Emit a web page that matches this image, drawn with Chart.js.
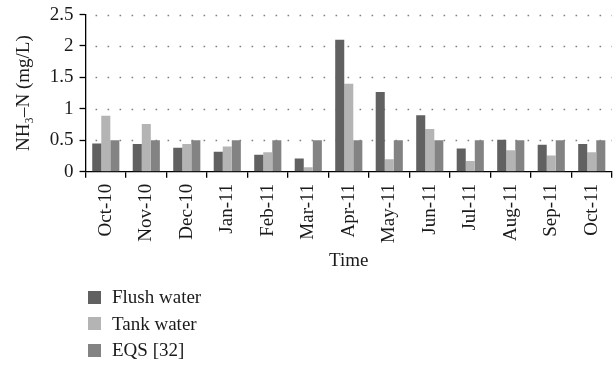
<!DOCTYPE html>
<html>
<head>
<meta charset="utf-8">
<script src="https://cdn.jsdelivr.net/npm/chart.js@4"></script>
<style>
  html, body { margin: 0; padding: 0; background: #fff; }
  #wrap { position: relative; width: 616px; height: 370px; }
  #c { position: absolute; left: 0; top: 0; }
  #legend { position: absolute; left: 88px; top: 284px; font-family: "Liberation Serif", serif; font-size: 19px; color: #1a1a1a; }
  .item { height: 26.5px; display: flex; align-items: center; }
  .box { width: 13px; height: 13px; margin-right: 11px; flex: none; }
</style>
</head>
<body>
<div id="wrap">
  <canvas id="c" width="616" height="370"></canvas>
  <div id="legend"></div>
</div>
<script>
const categories = ["Oct-10","Nov-10","Dec-10","Jan-11","Feb-11","Mar-11","Apr-11","May-11","Jun-11","Jul-11","Aug-11","Sep-11","Oct-11"];
const flushWater = [0.45, 0.44, 0.38, 0.32, 0.27, 0.21, 2.10, 1.27, 0.90, 0.37, 0.51, 0.43, 0.44];
const tankWater  = [0.89, 0.76, 0.44, 0.40, 0.31, 0.07, 1.40, 0.20, 0.68, 0.17, 0.34, 0.26, 0.31];
const eqs        = [0.5, 0.5, 0.5, 0.5, 0.5, 0.5, 0.5, 0.5, 0.5, 0.5, 0.5, 0.5, 0.5];
const seriesLabels = ["Flush water", "Tank water", "EQS [32]"];
const seriesColors = ["#616161", "#b4b4b4", "#838383"];
const yTicks = [0, 0.5, 1, 1.5, 2, 2.5];

const font = { family: "'Liberation Serif', serif", size: 19 };
const xFont = { family: "'Liberation Serif', serif", size: 19, lineHeight: 0.8 };
const yFont = { family: "'Liberation Serif', serif", size: 19, lineHeight: 0.9 };

// dotted horizontal grid lines drawn at the y scale's tick positions
const dottedGrid = {
  id: 'dottedGrid',
  beforeDatasetsDraw(chart) {
    const { ctx, chartArea, scales } = chart;
    const y = scales.y;
    ctx.save();
    ctx.strokeStyle = '#808080';
    ctx.lineWidth = 1.6;
    ctx.setLineDash([1.6, 10.4]);
    ctx.lineDashOffset = -10;
    y.ticks.forEach(t => {
      if (t.value === 0) return;
      const py = Math.round(y.getPixelForValue(t.value)) + 0.5;
      ctx.beginPath();
      ctx.moveTo(chartArea.left, py);
      ctx.lineTo(chartArea.right, py);
      ctx.stroke();
    });
    ctx.restore();
  }
};

const chart = new Chart(document.getElementById('c'), {
  type: 'bar',
  data: {
    labels: categories,
    datasets: [flushWater, tankWater, eqs].map((d, i) => ({
      label: seriesLabels[i],
      data: d,
      backgroundColor: seriesColors[i],
      borderWidth: 0,
      categoryPercentage: 0.67,
      barPercentage: 1.0
    }))
  },
  plugins: [dottedGrid],
  options: {
    responsive: false,
    animation: false,
    layout: { padding: { left: 13, right: 4, top: 0, bottom: 98 } },
    plugins: { legend: { display: false }, tooltip: { enabled: false } },
    scales: {
      x: {
        offset: true,
        grid: { display: true, drawOnChartArea: false, offset: true, color: '#000', tickColor: '#000', tickLength: 6, lineWidth: 1.3, tickWidth: 1.3 },
        border: { display: true, color: '#000', width: 1.3 },
        ticks: { color: '#1a1a1a', font: xFont, minRotation: 90, maxRotation: 90, padding: 6, autoSkip: false },
        title: { display: true, text: 'Time', color: '#1a1a1a', font: font, padding: { top: 0, bottom: 0 } }
      },
      y: {
        min: 0, max: 2.5,
        afterBuildTicks: (axis) => { axis.ticks = yTicks.map(v => ({ value: v })); },
        grid: { drawOnChartArea: false, tickColor: '#000', tickLength: 6, tickWidth: 1.3 },
        border: { display: true, color: '#000', width: 1.3 },
        ticks: { color: '#1a1a1a', font: yFont, padding: 6, callback: (v) => String(v) },
        title: { display: true, text: 'NH\u2083\u2013N (mg/L)', color: '#1a1a1a', font: font, padding: { top: 0, bottom: 8 } }
      }
    }
  }
});

const legend = document.getElementById('legend');
chart.data.datasets.forEach(ds => {
  const it = document.createElement('div');
  it.className = 'item';
  const b = document.createElement('span');
  b.className = 'box';
  b.style.background = ds.backgroundColor;
  const t = document.createElement('span');
  t.textContent = ds.label;
  it.appendChild(b); it.appendChild(t);
  legend.appendChild(it);
});
</script>
</body>
</html>
